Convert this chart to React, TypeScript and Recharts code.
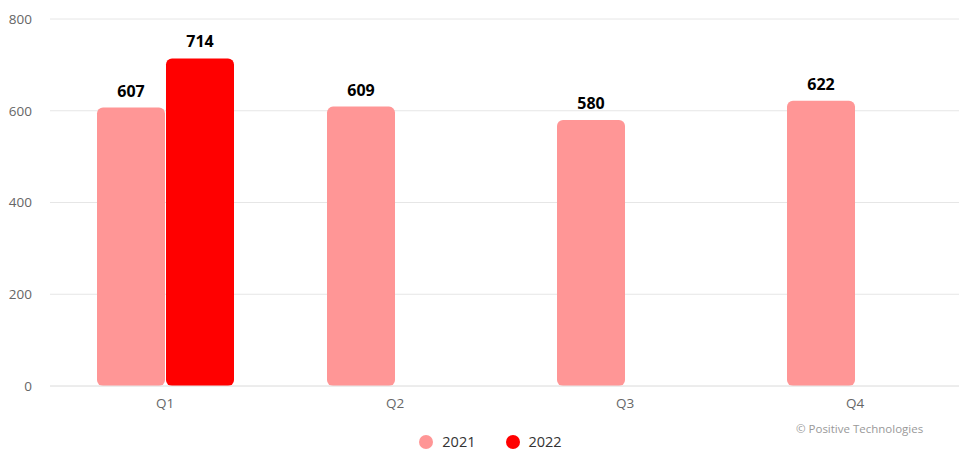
import React from "react";
import { BarChart, Bar, XAxis, YAxis, CartesianGrid, LabelList } from "recharts";

const categories = ["Q1", "Q2", "Q3", "Q4"];
const values2021: (number | null)[] = [607, 609, 580, 622];
const values2022: (number | null)[] = [714, null, null, null];
const yTicks = [0, 200, 400, 600, 800];
const seriesNames = ["2021", "2022"];
const seriesColors = ["#ff9696", "#ff0000"];
const creditText = "© Positive Technologies";

const data = categories.map((c, i) => ({
  name: c,
  y2021: values2021[i],
  y2022: values2022[i],
}));

const FONT = "'Open Sans', sans-serif";

const renderLabel = (props: any) => {
  const { x, y, width, value } = props;
  if (value === null || value === undefined) return null;
  return (
    <text
      x={x + width / 2}
      y={y - 11}
      textAnchor="middle"
      fill="#000"
      fontFamily={FONT}
      fontSize={16}
      fontWeight="bold"
    >
      {value}
    </text>
  );
};

export default function App() {
  return (
    <div
      style={{
        position: "absolute",
        left: 0,
        top: 0,
        width: 959,
        height: 450,
        overflow: "hidden",
        background: "#fff",
        fontFamily: FONT,
      }}
    >
      <BarChart
        width={970}
        height={450}
        data={data}
        margin={{ top: 19, right: 0, bottom: 34, left: 0 }}
        barSize={68}
        barGap={1}
      >
        <CartesianGrid vertical={false} stroke="#e6e6e6" />
        <XAxis
          dataKey="name"
          axisLine={{ stroke: "#e6e6e6" }}
          tickLine={false}
          tickMargin={6}
          tick={{ fill: "#666", fontSize: 13.5, fontFamily: FONT }}
        />
        <YAxis
          width={50}
          domain={[0, 800]}
          ticks={yTicks}
          axisLine={false}
          tickLine={false}
          tickMargin={12}
          tick={{ fill: "#666", fontSize: 13.5, fontFamily: FONT }}
        />
        <Bar dataKey="y2021" name={seriesNames[0]} fill={seriesColors[0]} radius={6} isAnimationActive={false}>
          <LabelList dataKey="y2021" content={renderLabel} />
        </Bar>
        <Bar dataKey="y2022" name={seriesNames[1]} fill={seriesColors[1]} radius={6} isAnimationActive={false}>
          <LabelList dataKey="y2022" content={renderLabel} />
        </Bar>
      </BarChart>
      <div
        style={{
          position: "absolute",
          left: 0,
          width: 959,
          top: 432,
          display: "flex",
          justifyContent: "center",
          paddingLeft: 22,
          boxSizing: "border-box",
        }}
      >
        {seriesNames.map((n, i) => (
          <div key={n} style={{ display: "flex", alignItems: "center", marginRight: i === 0 ? 30 : 0 }}>
            <span
              style={{
                display: "inline-block",
                width: 14,
                height: 14,
                borderRadius: 7,
                background: seriesColors[i],
                marginRight: 9,
              }}
            />
            <span style={{ fontSize: 14.5, color: "#333", lineHeight: "20px" }}>{n}</span>
          </div>
        ))}
      </div>
      <div
        style={{
          position: "absolute",
          left: 796,
          top: 421,
          fontSize: 11.5,
          color: "#999",
          whiteSpace: "nowrap",
        }}
      >
        {creditText}
      </div>
    </div>
  );
}
